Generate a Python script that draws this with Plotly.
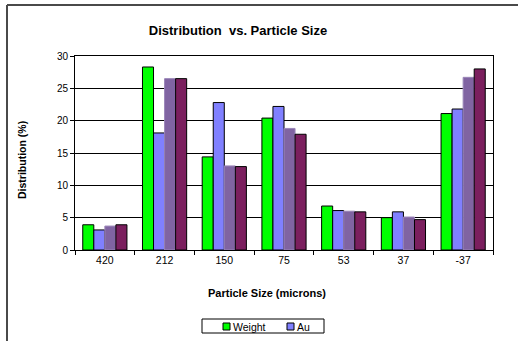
import plotly.graph_objects as go

# Particle-size fractions (microns); "-37" is the undersize fraction
sizes = ["420", "212", "150", "75", "53", "37", "-37"]

# Distribution (%) per size fraction
weight = [3.9, 28.3, 14.4, 20.4, 6.8, 5.0, 21.1]
au = [3.1, 18.1, 22.8, 22.2, 6.1, 5.9, 21.8]
series_c = [3.7, 26.5, 13.0, 18.8, 6.0, 5.1, 26.7]
series_d = [3.9, 26.5, 12.9, 17.9, 5.9, 4.7, 28.0]

y_ticks = [0, 5, 10, 15, 20, 25, 30]

FONT = "Liberation Sans, Arial, sans-serif"
GREEN, BLUE, PURPLE, PLUM = "#00FF00", "#8080FF", "#8064A2", "#7B1F5E"

# plot-area geometry in pixels, used to place annotations/shapes
L, R, T, B = 75, 493, 56, 250
W, H = 518, 341


def px(x):
    return (x - L) / (R - L)


def py(y):
    return (B - y) / (B - T)


fig = go.Figure()
fig.add_trace(go.Bar(name="Weight", x=sizes, y=weight,
                     marker=dict(color=GREEN, line=dict(color="black", width=1))))
fig.add_trace(go.Bar(name="Au", x=sizes, y=au,
                     marker=dict(color=BLUE, line=dict(color="black", width=1))))
fig.add_trace(go.Bar(name="C", x=sizes, y=series_c,
                     marker=dict(color=PURPLE, line=dict(color="#9a86b8", width=1))))
fig.add_trace(go.Bar(name="D", x=sizes, y=series_d,
                     marker=dict(color=PLUM, line=dict(color="black", width=1))))

fig.update_layout(
    width=W, height=H,
    margin=dict(l=L, r=W - R, t=T, b=H - B, autoexpand=False),
    paper_bgcolor="white", plot_bgcolor="white",
    barmode="group", bargap=0.26, bargroupgap=0,
    font=dict(family=FONT, size=10, color="black"),
    title=dict(text="<b>Distribution&nbsp; vs. Particle Size</b>",
               xref="container", yref="container",
               x=238 / W, y=1 - 30 / H, xanchor="center", yanchor="middle",
               font=dict(family=FONT, size=13, color="black")),
    showlegend=False,
)

fig.update_xaxes(
    type="category", showline=True, linecolor="black", linewidth=1, mirror=True,
    ticks="outside", tickson="boundaries", ticklen=4, tickcolor="black",
    showgrid=False, tickfont=dict(family=FONT, size=10.5),
)
fig.update_yaxes(
    range=[0, 30], tickvals=y_ticks, showline=True, linecolor="black", linewidth=1,
    mirror=True, ticks="outside", ticklen=4, tickcolor="black",
    showgrid=True, gridcolor="black", gridwidth=1, zeroline=False,
    tickfont=dict(family=FONT, size=10),
)

# Axis titles
fig.add_annotation(text="<b>Particle Size (microns)</b>", xref="paper", yref="paper",
                   x=px(267), y=py(293), showarrow=False,
                   xanchor="center", yanchor="middle",
                   font=dict(family=FONT, size=11, color="black"))
fig.add_annotation(text="<b>Distribution (%)</b>", xref="paper", yref="paper",
                   x=px(22), y=py(160), showarrow=False,
                   textangle=-90, xanchor="center", yanchor="middle",
                   font=dict(family=FONT, size=10.5, color="black"))

# Legend box with the two keyed series
fig.add_shape(type="rect", xref="paper", yref="paper",
              x0=px(202), x1=px(324), y0=py(319), y1=py(333),
              line=dict(color="black", width=1), fillcolor="white")
for (x0, color, label) in [(223, GREEN, "Weight"), (287, BLUE, "Au")]:
    fig.add_shape(type="rect", xref="paper", yref="paper",
                  x0=px(x0), x1=px(x0 + 7), y0=py(323), y1=py(330),
                  line=dict(color="black", width=1), fillcolor=color)
    fig.add_annotation(text=label, xref="paper", yref="paper",
                       x=px(x0 + 8), y=py(326.5), showarrow=False,
                       xanchor="left", yanchor="middle",
                       font=dict(family=FONT, size=10.5, color="black"))

# Outer chart-area frame (top and left edges)
fig.add_shape(type="line", xref="paper", yref="paper",
              x0=px(7), x1=px(530), y0=py(5), y1=py(5),
              line=dict(color="#4a4a4a", width=2))
fig.add_shape(type="line", xref="paper", yref="paper",
              x0=px(7), x1=px(7), y0=py(5), y1=py(360),
              line=dict(color="#4a4a4a", width=2))

fig.write_html("out.html")
